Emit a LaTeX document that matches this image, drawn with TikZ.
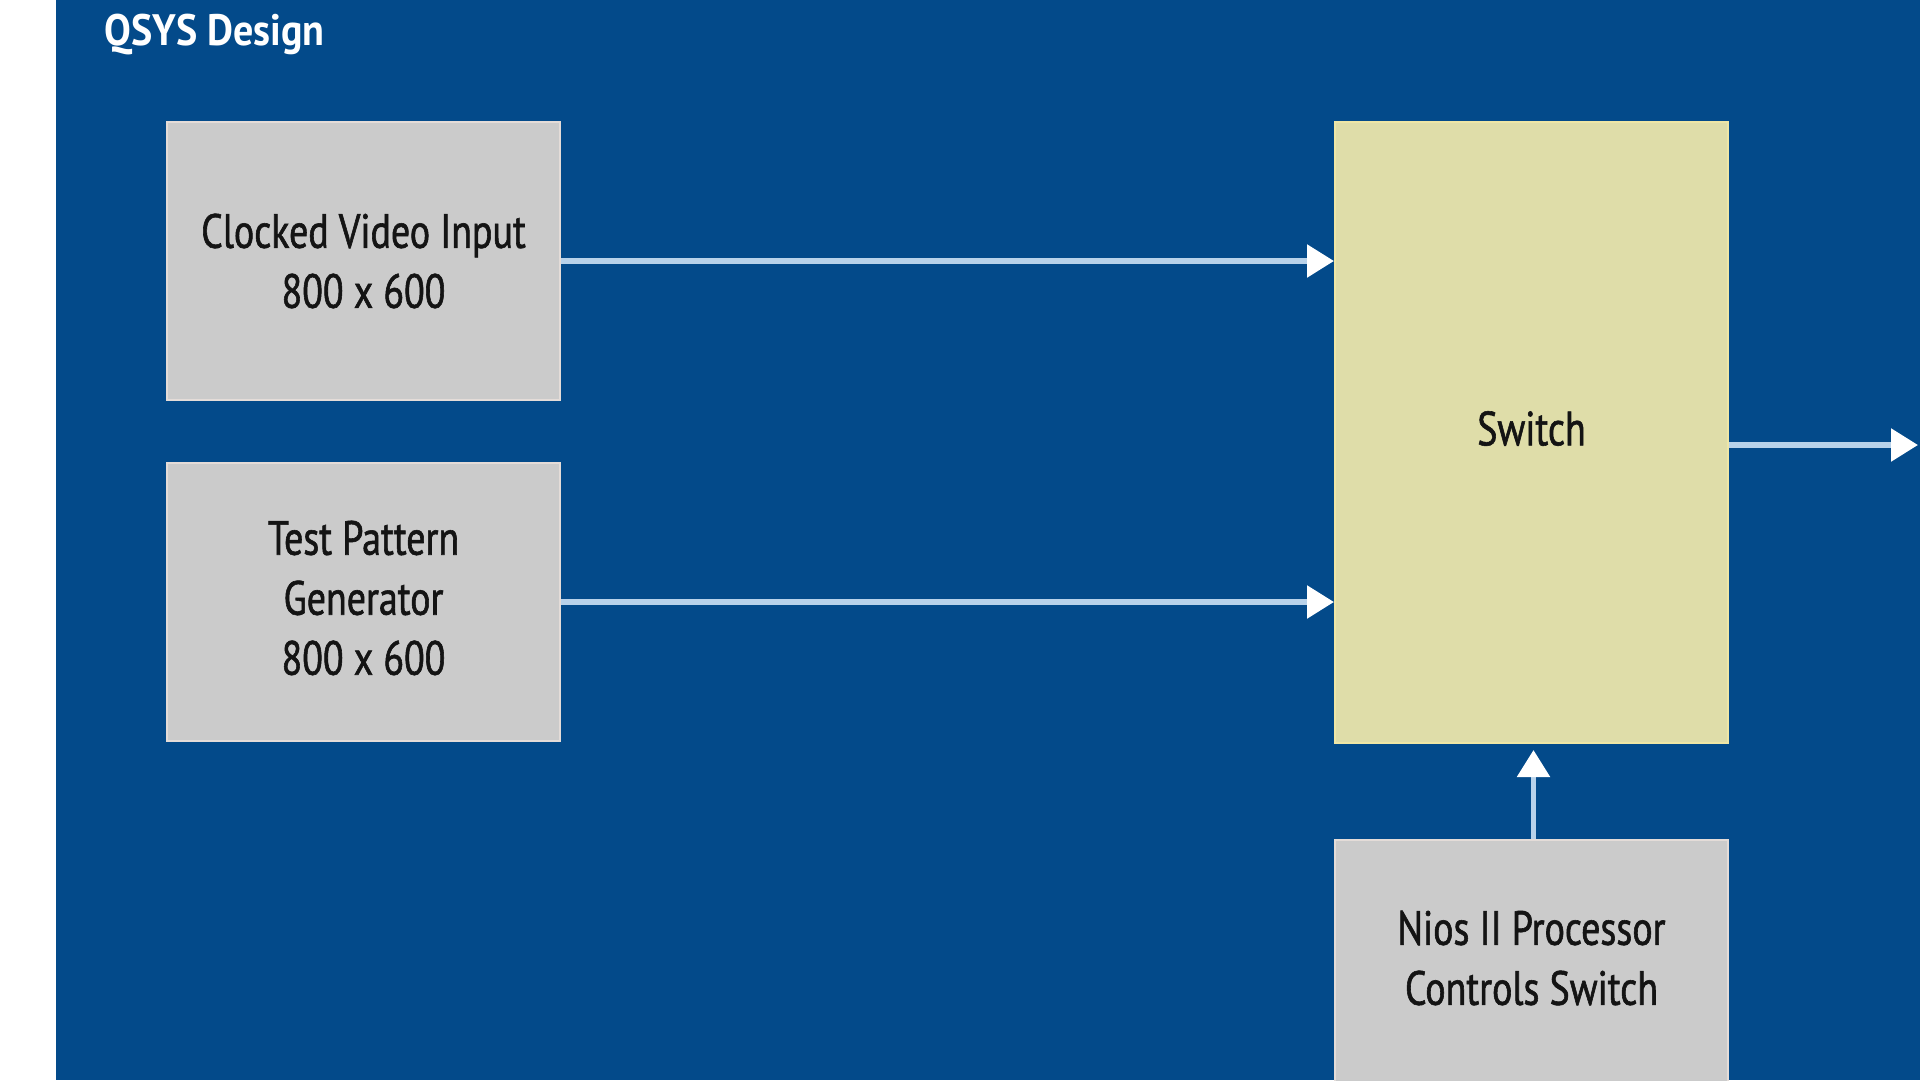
\documentclass[tikz,border=0pt]{standalone}
\usepackage{fontspec}
\setmainfont{PT Sans}
\newfontfamily\boxfont[FakeStretch=0.79,FakeBold=1.2]{PT Sans}
\newfontfamily\titlefont[FakeStretch=0.91]{PT Sans}
\usetikzlibrary{arrows.meta}
\definecolor{bgblue}{HTML}{034A8A}
\definecolor{boxgray}{HTML}{CBCBCB}
\definecolor{boxedge}{HTML}{E4DCD8}
\definecolor{swfill}{HTML}{DFDDA9}
\definecolor{swedge}{HTML}{EEE6A6}
\definecolor{linecol}{HTML}{B8D2EA}
\tikzset{
  boxtext/.style={align=center, inner sep=0pt, font=\boxfont\fontsize{48}{60}\selectfont, text=black!92},
  graybox/.style={draw=boxedge, line width=2pt, fill=boxgray, minimum width=393pt, boxtext},
  swbox/.style={graybox, draw=swedge, fill=swfill},
  uplabel/.style={label={[boxtext, yshift=4pt]center:#1}},
  conn/.style={draw=linecol, line width=5.5pt, -{Triangle[length=27pt,width=32pt,fill=white,color=white]}}
}
\begin{document}
\begin{tikzpicture}[x=1pt,y=-1pt]
\useasboundingbox (0,0) rectangle (1920,1080);
\fill[white] (0,0) rectangle (1920,1080);
\fill[bgblue] (56,0) rectangle (1920,1080);
\node[anchor=west, text=white, font=\titlefont\bfseries\fontsize{44}{50}\selectfont] (title) at (101,35) {QSYS Design};
\node[graybox, minimum height=278pt] (cvi) at (363.5,261) {Clocked Video Input\\800 x 600};
\node[graybox, minimum height=278pt, uplabel={Test Pattern\\Generator\\800 x 600}] (tpg) at (363.5,602) {};
\node[swbox, minimum height=621pt, uplabel={Switch}] (sw) at (1531.5,432.5) {};
\node[graybox, minimum height=244pt, uplabel={Nios II Processor\\Controls Switch}] (nios) at (1531.5,962) {};
\coordinate (out) at (1918,445);
\draw[conn] (cvi.east) -- (cvi.east -| sw.west);
\draw[conn] (tpg.east) -- (tpg.east -| sw.west);
\draw[conn] (sw.east |- out) -- (out);
\draw[conn, shorten >=6pt] ([xshift=2pt]nios.north) -- ([xshift=2pt]sw.south);
\end{tikzpicture}
\end{document}
